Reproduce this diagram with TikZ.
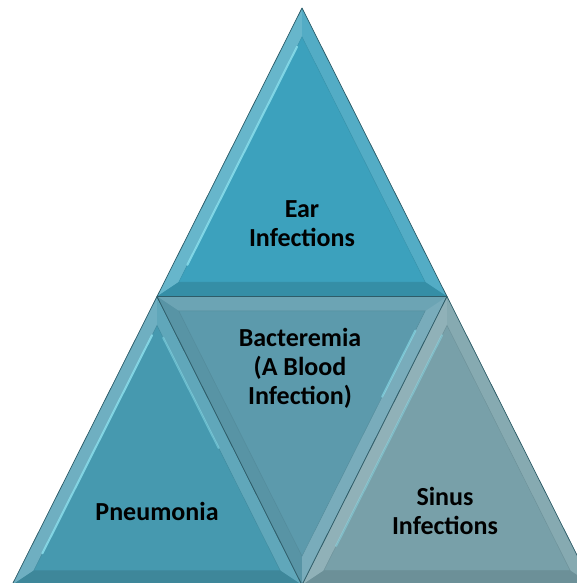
\documentclass[tikz,border=0pt]{standalone}
\usepackage{fontspec}
\setmainfont{Carlito}
\usetikzlibrary{calc}
\definecolor{EarBlue}{HTML}{3CA1BD}
\definecolor{PneuBlue}{HTML}{4699AF}
\definecolor{BactGray}{HTML}{5C9AAC}
\definecolor{SinusGray}{HTML}{78A0A9}
\definecolor{EdgeDark}{HTML}{2E5C68}
\definecolor{GlowCyan}{HTML}{8FE3F0}

% beveled triangle: #1,#2,#3 corners, #4 base colour,
% #5 facet on edge 1-2, #6 facet on edge 1-3, #7 facet on edge 2-3
\newcommand{\bevtri}[7]{%
  \coordinate (g) at ($0.3333*(#1)+0.3333*(#2)+0.3334*(#3)$);
  \coordinate (i1) at ($(#1)!0.15!(g)$);
  \coordinate (i2) at ($(#2)!0.15!(g)$);
  \coordinate (i3) at ($(#3)!0.15!(g)$);
  \fill[#4] (#1) -- (#2) -- (#3) -- cycle;
  \fill[#5] (#1) -- (#2) -- (i2) -- (i1) -- cycle;
  \fill[#6] (#1) -- (#3) -- (i3) -- (i1) -- cycle;
  \fill[#7] (#2) -- (#3) -- (i3) -- (i2) -- cycle;
  \draw[#4!90!black,line width=0.4pt] (i1) -- (i2) -- (i3) -- cycle;
  \draw[EdgeDark,line width=0.7pt,line join=round] (#1) -- (#2) -- (#3) -- cycle;
}

\tikzset{
  label text/.style={font=\fontsize{26}{29}\selectfont\bfseries,align=center,text=black},
  glow/.style={GlowCyan,line width=2pt,line cap=round,opacity=0.8}
}

\begin{document}
\begin{tikzpicture}[x=1pt,y=-1pt]
  \useasboundingbox (0,0) rectangle (577,583);
  \clip (0,0) rectangle (577,583);
  % corners of the pyramid
  \coordinate (top) at (302,8);
  \coordinate (midL) at (157,296.5);
  \coordinate (midR) at (447,296.5);
  \coordinate (botL) at (12,585);
  \coordinate (botM) at (302,585);
  \coordinate (botR) at (592,585);

  % ear infections
  \bevtri{top}{midL}{midR}{EarBlue}{EarBlue!78!white}{EarBlue!88!white}{EarBlue!88!black}
  \draw[glow] ($(i1)!0.04!(i2)$) -- ($(i1)!0.93!(i2)$);
  % pneumonia
  \bevtri{midL}{botL}{botM}{PneuBlue}{PneuBlue!78!white}{PneuBlue!86!white}{PneuBlue!88!black}
  \draw[glow] ($(i1)!0.04!(i2)$) -- ($(i1)!0.93!(i2)$);
  \draw[glow,opacity=0.5] ($(i1)!0.05!(i3)$) -- ($(i1)!0.5!(i3)$);
  % bacteremia
  \bevtri{midL}{midR}{botM}{BactGray}{BactGray!90!white}{BactGray!96!black}{BactGray!82!white}
  \draw[glow,opacity=0.6] ($(i2)!0.08!(i3)$) -- ($(i2)!0.35!(i3)$);
  % sinus infections
  \bevtri{midR}{botM}{botR}{SinusGray}{SinusGray!82!white}{SinusGray!90!white}{SinusGray!90!black}
  \draw[glow,opacity=0.45] ($(i1)!0.04!(i2)$) -- ($(i1)!0.9!(i2)$);

  \node[label text] (ear) at (302,224) {Ear\\Infections};
  \node[label text] (bact) at (300,368) {Bacteremia\\(A Blood\\Infection)};
  \node[label text] (pneu) at (157,511) {Pneumonia};
  \node[label text] (sinus) at (445,511) {Sinus\\Infections};
\end{tikzpicture}
\end{document}
